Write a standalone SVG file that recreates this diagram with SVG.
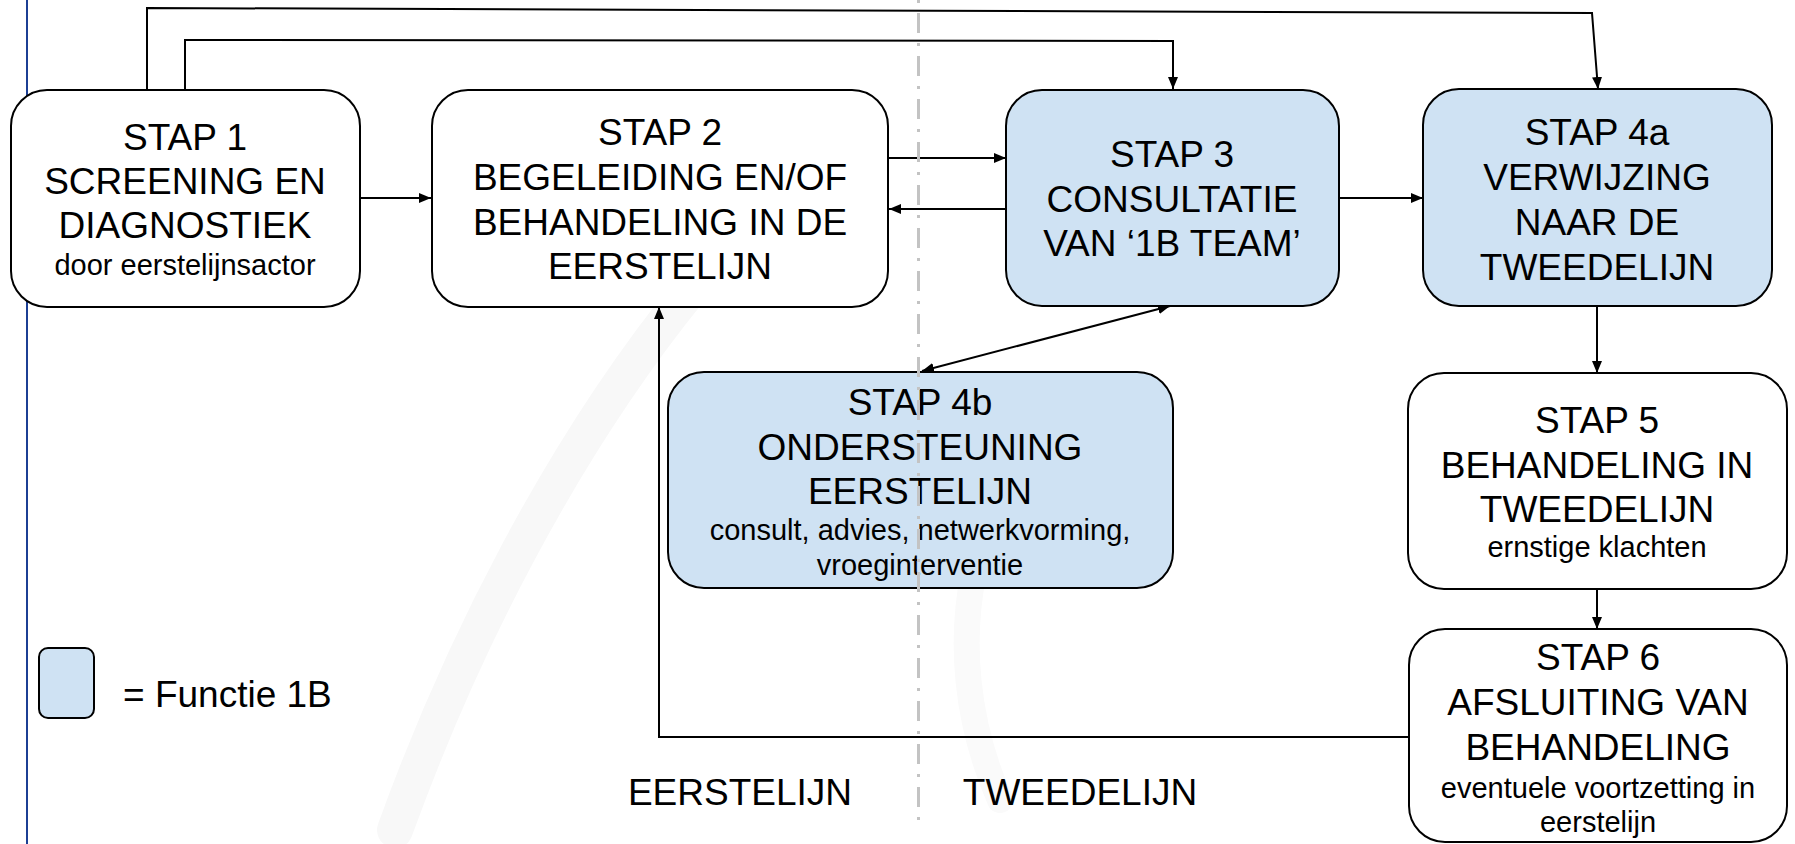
<svg xmlns="http://www.w3.org/2000/svg" width="1795" height="844" viewBox="0 0 1795 844">
  <defs>
    <style>
      .box { stroke: #000; stroke-width: 2; }
      .plain { fill: #fff; }
      .f1b { fill: #cfe2f3; }
      text { font-family: "Liberation Sans", Arial, sans-serif; fill: #000; text-anchor: middle; }
      .t { font-size: 37px; }
      .s { font-size: 29px; }
      .lbl { text-anchor: start; }
      .conn { fill: none; stroke: #000; stroke-width: 2; }
      .wm { fill: none; stroke-linecap: round; }
    </style>
    <marker id="ah" viewBox="0 0 12 10" refX="12" refY="5" markerWidth="12" markerHeight="10" markerUnits="userSpaceOnUse" orient="auto-start-reverse">
      <path d="M0,0 L12,5 L0,10 z" fill="#000"/>
    </marker>
  </defs>

  <rect width="1795" height="844" fill="#fff"/>

  <!-- faint background watermark -->
  <g id="watermark" class="wm">
    <path d="M395,830 C460,650 560,450 690,290" stroke="#f8f8f8" stroke-width="36"/>
    <path d="M1000,800 C930,640 980,480 1060,420" stroke="#fafafa" stroke-width="26"/>
  </g>

  <!-- left margin rule -->
  <line x1="27" y1="0" x2="27" y2="844" stroke="#1c3f94" stroke-width="2"/>

  <!-- connectors -->
  <g id="connectors">
    <path class="conn" d="M147,90 L147,8 L1592,13 L1598,89" marker-end="url(#ah)"/>
    <path class="conn" d="M185,90 L185,40 L1173,41 L1173,89" marker-end="url(#ah)"/>
    <line class="conn" x1="360" y1="198" x2="431" y2="198" marker-end="url(#ah)"/>
    <line class="conn" x1="888" y1="158" x2="1006" y2="158" marker-end="url(#ah)"/>
    <line class="conn" x1="1006" y1="209" x2="889" y2="209" marker-end="url(#ah)"/>
    <line class="conn" x1="1339" y1="198" x2="1423" y2="198" marker-end="url(#ah)"/>
    <line class="conn" x1="1170" y1="306" x2="922" y2="371" stroke-width="2.5" marker-start="url(#ah)" marker-end="url(#ah)"/>
    <line class="conn" x1="1597" y1="306" x2="1597" y2="373" marker-end="url(#ah)"/>
    <line class="conn" x1="1597" y1="589" x2="1597" y2="629" marker-end="url(#ah)"/>
    <path class="conn" d="M1409,737 L659,737 L659,307" marker-end="url(#ah)"/>
  </g>

  <g id="stap1">
    <rect class="box plain" x="11" y="90" width="349" height="217" rx="36"/>
    <text class="t" x="185" y="150">STAP 1</text>
    <text class="t" x="185" y="194">SCREENING EN</text>
    <text class="t" x="185" y="238">DIAGNOSTIEK</text>
    <text class="s" x="185" y="275">door eerstelijnsactor</text>
  </g>

  <g id="stap2">
    <rect class="box plain" x="432" y="90" width="456" height="217" rx="36"/>
    <text class="t" x="660" y="145">STAP 2</text>
    <text class="t" x="660" y="190">BEGELEIDING EN/OF</text>
    <text class="t" x="660" y="235">BEHANDELING IN DE</text>
    <text class="t" x="660" y="279">EERSTELIJN</text>
  </g>

  <g id="stap3">
    <rect class="box f1b" x="1006" y="90" width="333" height="216" rx="36"/>
    <text class="t" x="1172" y="167">STAP 3</text>
    <text class="t" x="1172" y="212">CONSULTATIE</text>
    <text class="t" x="1172" y="256">VAN ‘1B TEAM’</text>
  </g>

  <g id="stap4a">
    <rect class="box f1b" x="1423" y="89" width="349" height="217" rx="36"/>
    <text class="t" x="1597" y="145">STAP 4a</text>
    <text class="t" x="1597" y="190">VERWIJZING</text>
    <text class="t" x="1597" y="235">NAAR DE</text>
    <text class="t" x="1597" y="280">TWEEDELIJN</text>
  </g>

  <g id="stap4b">
    <rect class="box f1b" x="668" y="372" width="505" height="216" rx="36"/>
    <text class="t" x="920" y="415">STAP 4b</text>
    <text class="t" x="920" y="460">ONDERSTEUNING</text>
    <text class="t" x="920" y="504">EERSTELIJN</text>
    <text class="s" x="920" y="540">consult, advies, netwerkvorming,</text>
    <text class="s" x="920" y="575">vroeginterventie</text>
  </g>

  <g id="stap5">
    <rect class="box plain" x="1408" y="373" width="379" height="216" rx="36"/>
    <text class="t" x="1597" y="433">STAP 5</text>
    <text class="t" x="1597" y="478">BEHANDELING IN</text>
    <text class="t" x="1597" y="522">TWEEDELIJN</text>
    <text class="s" x="1597" y="557">ernstige klachten</text>
  </g>

  <g id="stap6">
    <rect class="box plain" x="1409" y="629" width="378" height="213" rx="36"/>
    <text class="t" x="1598" y="670">STAP 6</text>
    <text class="t" x="1598" y="715">AFSLUITING VAN</text>
    <text class="t" x="1598" y="760">BEHANDELING</text>
    <text class="s" x="1598" y="798">eventuele voortzetting in</text>
    <text class="s" x="1598" y="832">eerstelijn</text>
  </g>

  <!-- boundary between first and second line of care -->
  <line id="divider" x1="918.5" y1="-30" x2="918.5" y2="830" stroke="#c3c3c3" stroke-width="3" stroke-dasharray="20 10 3 10"/>

  <g id="legend">
    <rect class="box f1b" x="39" y="648" width="55" height="70" rx="9" stroke-width="1.5"/>
    <text class="t lbl" x="123" y="707">= Functie 1B</text>
  </g>

  <g id="zones">
    <text class="t" x="740" y="805">EERSTELIJN</text>
    <text class="t" x="1080" y="805">TWEEDELIJN</text>
  </g>
</svg>
